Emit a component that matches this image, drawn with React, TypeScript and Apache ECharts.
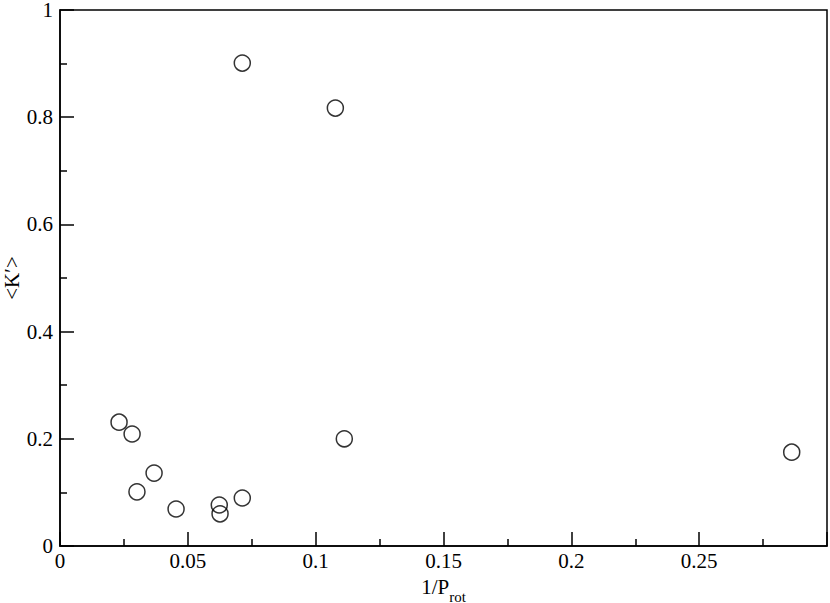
import React, { useEffect, useRef } from "react";
import * as echarts from "echarts";

const xValues = [0.0713, 0.1077, 0.0231, 0.0282, 0.0368, 0.0301, 0.0454, 0.0623, 0.0626, 0.0713, 0.1112, 0.2862];
const yValues = [0.901, 0.817, 0.231, 0.209, 0.136, 0.101, 0.069, 0.0765, 0.060, 0.0896, 0.200, 0.175];
const xTickLabels = ["0", "0.05", "0.1", "0.15", "0.2", "0.25"];
const yTickLabels = ["0", "0.2", "0.4", "0.6", "0.8", "1"];

const FONT = "Liberation Serif";
const tickRich = {
  t: { fontFamily: FONT, fontSize: 21, lineHeight: 18, color: "#000" },
  m: { fontFamily: FONT, fontSize: 21, lineHeight: 14, color: "#000" },
};

export default function App() {
  const ref = useRef<HTMLDivElement>(null);
  useEffect(() => {
    if (!ref.current) return;
    const chart = echarts.init(ref.current, undefined, { renderer: "svg" });
    const data = xValues.map((x, i) => [x, yValues[i]]);
    chart.setOption({
      animation: false,
      backgroundColor: "#fff",
      textStyle: { fontFamily: FONT, fontSize: 21 },
      grid: {
        left: 60,
        top: 10,
        width: 767,
        height: 536,
        outerBoundsMode: "none",
        containLabel: false,
        show: true,
        borderColor: "#000",
        borderWidth: 1.5,
        backgroundColor: "transparent",
      },
      xAxis: {
        type: "value",
        min: 0,
        max: 0.3,
        interval: 0.05,
        name: "{a|1/P}{s|rot}",
        nameLocation: "middle",
        nameGap: 30,
        nameMoveOverlap: false,
        nameTextStyle: {
          rich: {
            a: { fontFamily: FONT, fontSize: 21, color: "#000", verticalAlign: "bottom" },
            s: { fontFamily: FONT, fontSize: 15, color: "#000", verticalAlign: "bottom", padding: [0, 0, -7, 0] },
          },
        },
        axisLine: { show: true, onZero: false, lineStyle: { color: "#000", width: 1.5 } },
        axisTick: { show: true, inside: true, length: 14, lineStyle: { color: "#000", width: 1.5 } },
        minorTick: { show: true, splitNumber: 2, length: 7, lineStyle: { color: "#000", width: 1.5 } },
        splitLine: { show: false },
        axisLabel: {
          fontFamily: FONT,
          fontSize: 21,
          color: "#000",
          margin: 6,
          showMaxLabel: false,
          rich: tickRich,
          formatter: (v: number) => {
            const idx = Math.round(v / 0.05);
            const s = xTickLabels[idx];
            return s ? `{t|${s}}` : "";
          },
        },
      },
      yAxis: {
        type: "value",
        min: 0,
        max: 1,
        interval: 0.2,
        name: "{n|<K′>}",
        nameLocation: "middle",
        nameGap: 38,
        nameRotate: 90,
        nameMoveOverlap: false,
        nameTextStyle: {
          rich: { n: { fontFamily: FONT, fontSize: 21, color: "#000" } },
        },
        axisLine: { show: true, onZero: false, lineStyle: { color: "#000", width: 1.5 } },
        axisTick: { show: true, inside: true, length: 14, lineStyle: { color: "#000", width: 1.5 } },
        minorTick: { show: true, splitNumber: 2, length: 7, lineStyle: { color: "#000", width: 1.5 } },
        splitLine: { show: false },
        axisLabel: {
          fontFamily: FONT,
          fontSize: 21,
          color: "#000",
          margin: 7,
          rich: tickRich,
          formatter: (v: number) => {
            const idx = Math.round(v / 0.2);
            const s = yTickLabels[idx];
            if (!s) return "";
            return idx === yTickLabels.length - 1 ? `{m|${s}}` : `{t|${s}}`;
          },
        },
      },
      series: [
        {
          type: "scatter",
          data,
          symbol: "circle",
          symbolSize: 16,
          itemStyle: { color: "rgba(0,0,0,0)", borderColor: "#000", borderWidth: 1.5 },
          emphasis: { disabled: true },
        },
      ],
    });
    return () => chart.dispose();
  }, []);
  return <div ref={ref} style={{ width: 830, height: 603, position: "absolute", left: 0, top: 0 }} />;
}
